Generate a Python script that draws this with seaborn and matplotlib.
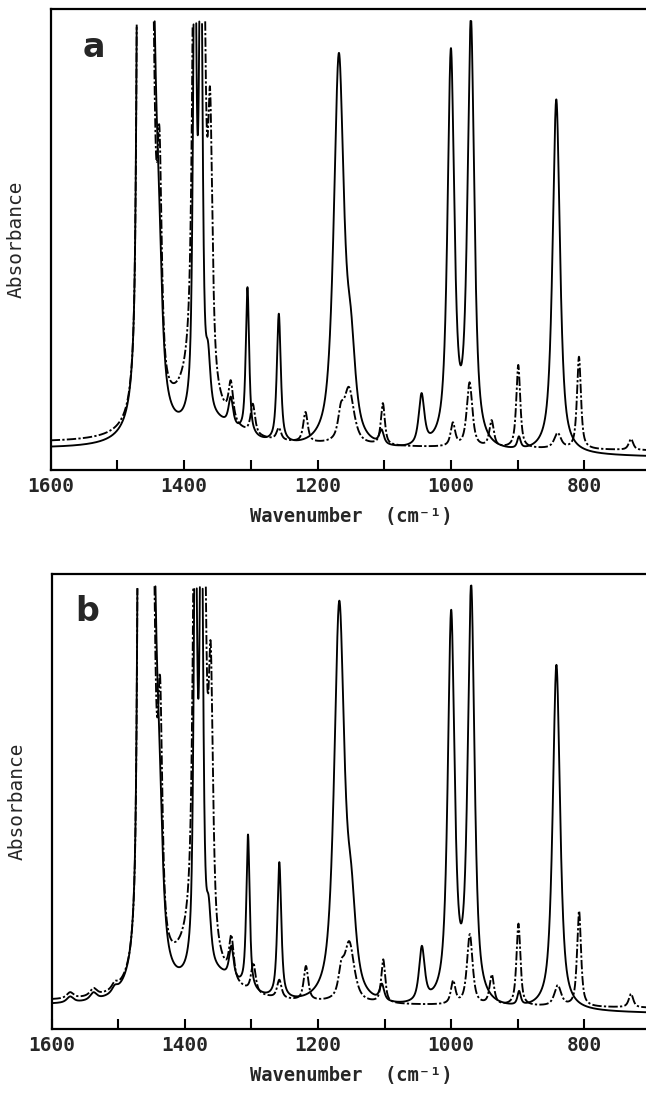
import numpy as np
import pandas as pd
import matplotlib
matplotlib.use("Agg")
import matplotlib.pyplot as plt
import seaborn as sns

# ---------------- data ----------------
x_limits = (1600, 700)
major_ticks = [1600, 1400, 1200, 1000, 800]
minor_ticks = [1500, 1300, 1100, 900]
panel_labels = ["a", "b"]
x_label = "Wavenumber  (cm\u207b\u00b9)"
y_label = "Absorbance"

# band centre (cm-1), height (% of axis height), half width (cm-1)
a_solid_centre = [1468, 1458, 1449, 1438, 1355, 1384, 1375, 1364, 1330, 1305, 1258, 1168, 1150, 1104, 1044, 1000, 970, 898, 842]
a_solid_height = [150, 80, 100, 25, 5, 110, 110, 10, 6, 32, 28, 84, 17, 3, 11, 85, 92, 2.5, 77]
a_solid_width = [3, 6, 7, 6, 50, 3, 3, 4, 4, 3, 3.5, 9, 8, 4, 5, 6, 6, 3, 6.5]
a_solid_baseline = [4.5, 2.8]

a_dash_centre = [1468, 1458, 1449, 1437, 1385, 1384, 1378, 1372, 1361, 1330, 1297, 1258, 1218, 1165, 1153, 1102, 997, 972, 939, 899, 840, 808, 730]
a_dash_height = [150, 80, 100, 47, 9, 110, 60, 110, 55, 8, 6.5, 2.6, 6.5, 5, 12, 9, 5, 14, 5.7, 18, 3.3, 20, 2.4]
a_dash_width = [3, 6, 5, 4, 45, 4, 4, 4, 4, 4, 4, 4, 4, 5, 9, 3.5, 4, 5, 4, 3.5, 6, 3.5, 4]
a_dash_baseline = [5.8, 4.2]

b_solid_centre = [1572, 1537, 1505, 1468, 1458, 1449, 1438, 1355, 1384, 1375, 1364, 1330, 1305, 1258, 1168, 1150, 1104, 1044, 1000, 970, 898, 842]
b_solid_height = [1.3, 1.6, 1.2, 150, 80, 100, 25, 6, 105, 110, 10, 7, 34, 30, 87, 17, 3.5, 12, 85, 91, 3, 76]
b_solid_width = [6, 6, 5, 3, 6, 7, 6, 50, 3, 3, 4, 4, 3, 3.5, 9, 8, 4, 5, 6, 6, 3, 6.5]
b_solid_baseline = [5.0, 3.4]

b_dash_centre = [1572, 1537, 1505, 1468, 1458, 1449, 1437, 1385, 1384, 1378, 1372, 1361, 1330, 1297, 1258, 1218, 1165, 1153, 1102, 997, 972, 939, 899, 840, 808, 730]
b_dash_height = [1.3, 1.6, 1.2, 150, 80, 100, 50, 9, 110, 60, 110, 57, 9, 6.5, 4, 7.5, 5, 13, 9.5, 5, 15.5, 6.5, 18, 4.5, 21, 3]
b_dash_width = [6, 6, 5, 3, 6, 5, 4, 45, 4, 4, 4, 4, 4, 4, 4, 4, 5, 9, 3.5, 4, 5, 4, 3.5, 6, 3.5, 4]
b_dash_baseline = [5.9, 4.6]

off_scale_level = [97.5, 97.5]   # pen leaves the chart above this level
band_mix = 0.75                   # Lorentzian fraction of the band shape


def spectrum(centre, height, width, baseline, wn):
    y = baseline[0] + (baseline[1] - baseline[0]) * (x_limits[0] - wn) / (x_limits[0] - x_limits[1])
    for c, h, w in zip(centre, height, width):
        u2 = ((wn - c) / w) ** 2
        y = y + h * (band_mix / (1 + u2) + (1 - band_mix) * np.exp(-np.log(2) * u2))
    return y


def frame(centre, height, width, baseline, name, level):
    wn = np.arange(x_limits[0], x_limits[1] - 0.05, -0.05)
    y = spectrum(centre, height, width, baseline, wn)
    keep = y <= level
    seg = np.cumsum(np.r_[0, np.diff(keep.astype(int)) != 0])
    df = pd.DataFrame({"wn": wn, "A": y, "sample": name, "seg": [f"{name}{s}" for s in seg]})
    return df[keep]


panels = [
    [(a_solid_centre, a_solid_height, a_solid_width, a_solid_baseline, "solid"),
     (a_dash_centre, a_dash_height, a_dash_width, a_dash_baseline, "dashed")],
    [(b_solid_centre, b_solid_height, b_solid_width, b_solid_baseline, "solid"),
     (b_dash_centre, b_dash_height, b_dash_width, b_dash_baseline, "dashed")],
]

# ---------------- drawing ----------------
sns.set_style("white")
plt.rcParams["font.family"] = ["DejaVu Sans Mono", "DejaVu Sans"]

W, H = 646, 1093
fig = plt.figure(figsize=(W / 100, H / 100), dpi=100)
# axes boxes in pixels: left, top, right, bottom
boxes = [(50.7, 9.3, 651, 470), (51.5, 574, 651, 1029)]

for i, (box, curves) in enumerate(zip(boxes, panels)):
    l, t, r, b = box
    ax = fig.add_axes([l / W, 1 - b / H, (r - l) / W, (b - t) / H])
    df = pd.concat([frame(*c, off_scale_level[i]) for c in curves], ignore_index=True)
    sns.lineplot(data=df, x="wn", y="A", style="sample", units="seg", estimator=None,
                 dashes={"solid": "", "dashed": (5, 1.2, 1.2, 1.2)},
                 color="black", lw=1.35, legend=False, sort=False, ax=ax)
    ax.set_xlim(*x_limits)
    ax.set_ylim(0, 100)
    ax.set_xticks(major_ticks)
    ax.set_xticks(minor_ticks, minor=True)
    ax.set_xticklabels([str(v) for v in major_ticks])
    ax.set_yticks([])
    ax.tick_params(axis="x", which="both", direction="in", length=7, width=1.5,
                   bottom=True, top=False, color="black")
    ax.tick_params(axis="x", which="major", labelsize=14, pad=5)
    for lab in ax.get_xticklabels():
        lab.set_fontweight("bold")
    for s in ["left", "top", "bottom"]:
        ax.spines[s].set_visible(True)
        ax.spines[s].set_linewidth(1.6)
        ax.spines[s].set_color("black")
    ax.spines["right"].set_visible(False)
    ax.set_xlabel(x_label, fontsize=13.5, labelpad=8, fontweight="bold")
    ax.set_ylabel(y_label, fontsize=14, labelpad=10)
    ax.yaxis.set_label_coords(-0.041, 0.5)
    ax.text(0.072 if i == 0 else 0.06, 0.918, panel_labels[i], transform=ax.transAxes,
            fontsize=24, fontweight="bold", ha="center", va="center", family="DejaVu Sans")

fig.savefig("out.png", dpi=100)
